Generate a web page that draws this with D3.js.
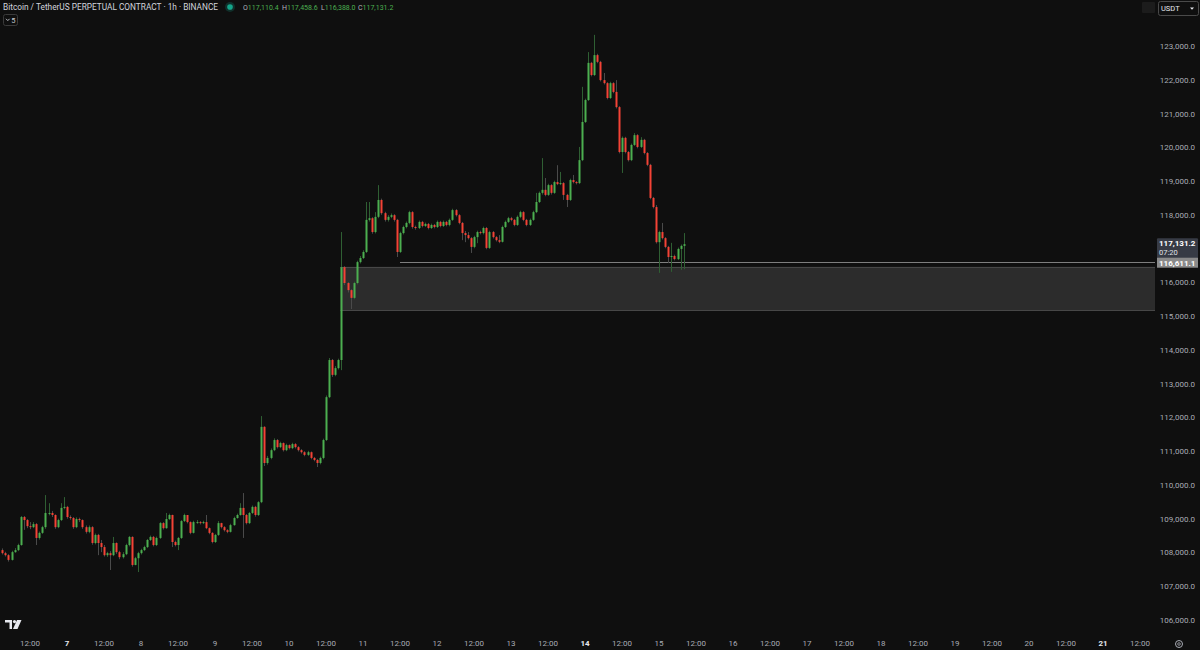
<!DOCTYPE html>
<html><head><meta charset="utf-8">
<script src="https://cdn.jsdelivr.net/npm/d3@7"></script>
<style>html,body{margin:0;padding:0;background:#0f0f0f;overflow:hidden}svg{display:block;font-family:Roboto,"Noto Sans",sans-serif}</style>
</head><body><svg id="c" width="1200" height="650"></svg>
<script>
// ---------------- data ----------------
const firstCandle = new Date(2025, 6, 6, 3);   // 6 Jul 2025 03:00, hourly candles
const firstOpen = 108070;
const closes = [
107980,107920,107780,108010,108070,108220,109050,108960,108780,108750,
108840,108430,108580,108750,109170,109170,109110,108750,108960,109320,
109350,109050,109020,108750,108990,108960,108750,108610,108750,108280,
108520,108280,108160,107920,107980,107920,108280,108010,107860,107950,
108220,108460,107630,107830,107980,108070,108160,108370,108460,108220,
108430,108870,108720,108990,109110,108310,108220,108430,108930,109110,
108900,108580,108900,108900,108870,108900,108720,108580,108310,108520,
108870,108750,108660,108610,108810,109020,109110,109320,109110,108870,
109170,109350,109110,109490,111720,110650,110800,111030,111330,111120,
111240,111030,111180,111090,111210,111120,111030,110970,110890,110970,
110800,110740,110650,110800,111330,112600,113700,113260,113460,113700,
116450,115980,115770,115540,115980,116600,116720,116900,117850,117900,
117490,117940,118440,118050,117850,117940,117990,117850,116900,117460,
117640,117760,118080,117640,117610,117790,117670,117730,117610,117700,
117640,117790,117670,117790,117700,117850,118140,117990,117760,117460,
117400,117310,117050,117340,117490,117460,117610,117020,117490,117340,
117250,117200,117640,117790,117900,117850,117700,117940,118080,117850,
117700,117850,118080,118380,118650,118740,118590,118880,118650,118970,
118910,118940,118590,118440,119030,118970,118940,119620,120750,121400,
122500,122140,122730,122530,121990,121900,121460,121900,121640,121190,
119860,120280,119860,119620,120070,120360,120010,120220,119830,119480,
118500,118230,117190,117490,117310,117050,116750,116780,116690,116990,
117080,117131.2];
const highs = [
108120,108020,107950,108050,108130,108260,109080,109080,108990,108900,
108900,108870,108620,108790,109700,109460,109230,109130,109000,109460,
109640,109380,109100,109050,109040,109030,108980,108800,108800,108780,
108560,108550,108370,108220,108020,108040,108460,108300,108050,108010,
108260,108490,108480,107870,108020,108110,108200,108400,108500,108490,
108470,108900,108900,109170,109150,109120,108350,108460,108960,109150,
109110,108920,108940,108960,108930,108940,109110,108740,108600,108550,
108930,108880,108780,108690,108850,109060,109150,109460,109760,109140,
109200,109390,109380,109520,112040,111740,110860,111080,111380,111360,
111280,111260,111220,111200,111250,111240,111150,111060,111000,111010,
110990,110830,110770,110840,111370,112650,113760,113730,113520,113740,
117490,116480,116010,115800,116020,116640,116780,116950,118380,118380,
117930,118080,118880,118480,118090,117990,118040,118020,117880,117500,
117680,117800,118120,118110,117680,117830,117820,117770,117760,117740,
117730,117830,117820,117830,117820,117890,118180,118170,118020,117790,
117520,117490,117340,117380,117530,117530,117650,117640,117530,117520,
117370,117400,117680,117830,117940,117940,117880,117980,118120,118110,
117880,117890,118120,118650,118690,119680,119090,118920,118910,119010,
119470,119270,118970,118620,119070,119180,119000,120010,121790,121440,
122820,122530,123330,122770,122560,122200,121930,121940,121930,121990,
121220,120320,120310,119890,120110,120420,120390,120300,120250,119860,
119510,118530,118290,117530,117760,117340,117080,117170,116820,117030,
117120,117458.6];
const lows = [
107940,107880,107730,107760,107990,108040,108200,108670,108720,108690,
108720,108220,108380,108550,108700,109100,109050,108700,108720,108930,
109280,109000,108970,108700,108720,108900,108700,108560,108570,108230,
108240,107920,108010,107880,107870,107480,107890,107960,107800,107820,
107920,108180,107580,107620,107420,107940,108040,108130,108340,108180,
108190,108400,108680,108700,108960,108160,108180,108070,108400,108900,
108860,108540,108560,108850,108830,108840,108690,108540,108270,108280,
108490,108710,108620,108570,108590,108790,109000,109090,108430,108830,
108840,109140,109060,109080,109460,110560,110600,110760,111000,111080,
111090,110990,111000,111050,111060,111080,110990,110930,110850,110860,
110760,110700,110530,110610,110760,111300,112570,113200,113220,113420,
113400,115920,115700,115210,115500,115940,116560,116690,116870,117800,
117440,117450,117900,118000,117800,117800,117900,117800,116750,116870,
117420,117600,117720,117590,117560,117580,117630,117640,117570,117580,
117600,117610,117630,117640,117660,117660,117820,117950,117720,117250,
117190,117270,116870,117010,117160,117420,117420,116980,116990,117300,
117210,117160,117180,117610,117760,117810,117660,117670,117900,117810,
117660,117670,117820,118050,118350,118600,118550,118560,118600,118620,
118880,118880,118440,118230,118410,118930,118900,118910,119590,120720,
121370,122100,122110,122490,121950,121860,121420,121430,121600,121150,
119820,119240,119820,119580,119590,120040,119970,119980,119790,119440,
118460,118190,117150,116280,117270,117010,116570,116310,116650,116660,
116370,116388];
const priceTicks = [106000,107000,108000,109000,110000,111000,112000,113000,114000,115000,116000,118000,119000,120000,121000,122000,123000];
const zoneTop = 116460, zoneBottom = 115180;
const zoneStart = new Date(2025, 6, 10, 17);
const levelPrice = 116611.1;
const levelStart = new Date(2025, 6, 11, 12);
const lastPrice = 117131.2;
const countdown = "07:20";
const title = "Bitcoin / TetherUS PERPETUAL CONTRACT · 1h · BINANCE";
const ohlcKeys = ["O","H","L","C"];
const ohlcVals = ["117,110.4","117,458.6","116,388.0","117,131.2"];
const indicatorCount = "5";

// ---------------- scales ----------------
const W = 1200, H = 650, plotRight = 1155;
const x = d3.scaleTime().domain([new Date(2025,6,7), new Date(2025,6,14)]).range([67, 585]);
const y = d3.scaleLinear().domain([106000, 123000]).range([620, 46]);
const fmt = d3.format(",.1f");

const svg = d3.select("#c");
svg.append("rect").attr("width", W).attr("height", H).attr("fill", "#0f0f0f");

const candles = closes.map((c, i) => ({
  t: d3.timeHour.offset(firstCandle, i),
  o: i === 0 ? firstOpen : closes[i - 1],
  h: highs[i], l: lows[i], c
}));

svg.append("clipPath").attr("id", "plot").append("rect").attr("x", 0).attr("y", 0).attr("width", plotRight).attr("height", 630);
const g = svg.append("g").attr("clip-path", "url(#plot)");

// zone
g.append("rect")
  .attr("x", x(zoneStart) - 1).attr("y", y(zoneTop))
  .attr("width", plotRight - x(zoneStart) + 1).attr("height", y(zoneBottom) - y(zoneTop))
  .attr("fill", "#2c2c2c");
[zoneTop, zoneBottom].forEach(p => g.append("line")
  .attr("x1", x(zoneStart) - 1).attr("x2", plotRight).attr("y1", Math.round(y(p)) + 0.5).attr("y2", Math.round(y(p)) + 0.5)
  .attr("stroke", "#474747").attr("stroke-width", 1));

// level line
g.append("line").attr("x1", x(levelStart)).attr("x2", plotRight)
  .attr("y1", Math.round(y(levelPrice)) + 0.5).attr("y2", Math.round(y(levelPrice)) + 0.5)
  .attr("stroke", "#7e7e7e").attr("stroke-width", 1);

// candles
const up = "#4caf50", dn = "#f44336";
const cg = g.append("g");
cg.selectAll("line.w").data(candles).join("line").attr("class", "w")
  .attr("x1", d => Math.round(x(d.t)) + 0.5).attr("x2", d => Math.round(x(d.t)) + 0.5)
  .attr("y1", d => y(d.h)).attr("y2", d => y(d.l))
  .attr("stroke", d => d.c >= d.o ? "#2f5f33" : "#4a4a4a").attr("stroke-width", 1);
cg.selectAll("rect.b").data(candles).join("rect").attr("class", "b")
  .attr("x", d => Math.round(x(d.t)) - 0.5).attr("width", 2)
  .attr("y", d => y(Math.max(d.o, d.c)))
  .attr("height", d => Math.max(1, Math.abs(y(d.o) - y(d.c))))
  .attr("fill", d => d.c >= d.o ? up : dn);

// right price axis
const ax = svg.append("g");
ax.selectAll("text.p").data(priceTicks).join("text").attr("class", "p")
  .attr("x", 1195).attr("y", d => y(d) + 3).attr("text-anchor", "end")
  .attr("font-size", 8).attr("fill", "#a9acb5").text(d => fmt(d));

// last price box
const lpY = y(lastPrice);
ax.append("rect").attr("x", 1157).attr("y", lpY - 6).attr("width", 41).attr("height", 20).attr("rx", 1).attr("fill", "#373b45");
ax.append("text").attr("x", 1159).attr("y", lpY + 2).attr("font-size", 8).attr("font-weight", 700).attr("fill", "#ffffff").text(fmt(lastPrice));
ax.append("text").attr("x", 1159).attr("y", lpY + 11).attr("font-size", 7.5).attr("fill", "#e0e3eb").text(countdown);
// level box
const lvY = y(levelPrice);
ax.append("rect").attr("x", 1157).attr("y", lvY - 4).attr("width", 41).attr("height", 10).attr("fill", "#8a8a8a");
ax.append("text").attr("x", 1159).attr("y", lvY + 4).attr("font-size", 8).attr("font-weight", 700).attr("fill", "#ffffff").text(fmt(levelPrice));

// bottom time axis
const ticks = d3.timeHour.every(12).range(new Date(2025,6,6,12), new Date(2025,6,21,13));
svg.append("g").selectAll("text").data(ticks).join("text")
  .attr("x", d => x(d)).attr("y", 646).attr("text-anchor", "middle")
  .attr("font-size", 8)
  .attr("font-weight", d => (d.getHours() === 0 && d.getDay() === 1) ? 700 : 400)
  .attr("fill", d => (d.getHours() === 0 && d.getDay() === 1) ? "#e6e8ee" : "#a9acb5")
  .text(d => d.getHours() === 12 ? "12:00" : String(d.getDate()));

// settings icon bottom right
svg.append("circle").attr("cx", 1179).attr("cy", 644).attr("r", 3.5).attr("fill", "none").attr("stroke", "#a9acb5").attr("stroke-width", 1);
svg.append("circle").attr("cx", 1179).attr("cy", 644).attr("r", 1.3).attr("fill", "none").attr("stroke", "#a9acb5").attr("stroke-width", 0.8);

// header
svg.append("text").attr("x", 3).attr("y", 10).attr("font-size", 8.4).attr("fill", "#d1d4dc")
  .attr("textLength", 215).attr("lengthAdjust", "spacingAndGlyphs").text(title);
svg.append("circle").attr("cx", 230).attr("cy", 7).attr("r", 5).attr("fill", "#10302b");
svg.append("circle").attr("cx", 230).attr("cy", 7).attr("r", 2.8).attr("fill", "#14a58a");
const ohlcX = [243, 282, 321, 358];
ohlcKeys.forEach((k, i) => {
  const t = svg.append("text").attr("x", ohlcX[i]).attr("y", 10).attr("font-size", 7);
  t.append("tspan").attr("fill", "#b2b5be").text(k);
  t.append("tspan").attr("fill", "#4caf50").text(ohlcVals[i]);
});
// indicator toggle
svg.append("rect").attr("x", 3.5).attr("y", 14.5).attr("width", 14).attr("height", 11).attr("rx", 2).attr("fill", "none").attr("stroke", "#3a3a3a");
svg.append("path").attr("d", "M6,18.8 L7.8,20.6 L9.6,18.8").attr("fill", "none").attr("stroke", "#c8cbd2").attr("stroke-width", 0.9);
svg.append("text").attr("x", 11.2).attr("y", 23).attr("font-size", 7.5).attr("fill", "#c8cbd2").text(indicatorCount);

// top right controls
svg.append("rect").attr("x", 1142).attr("y", 2).attr("width", 13).attr("height", 11).attr("rx", 1).attr("fill", "#1c1c1c");
svg.append("rect").attr("x", 1158.5).attr("y", 1.5).attr("width", 40).attr("height", 14).attr("rx", 2).attr("fill", "#0f0f0f").attr("stroke", "#4a4a4a");
svg.append("text").attr("x", 1161).attr("y", 11).attr("font-size", 7.5).attr("fill", "#e6e8ee").text("USDT");
svg.append("path").attr("d", "M1190,7.5 L1194,7.5 L1192,9.8 Z").attr("fill", "#e6e8ee");

// TradingView logo (bottom-left)
const logo = svg.append("g").attr("fill", "#e6e8ee");
logo.append("path").attr("d", "M5,620 H12 V629 H9.5 V622.5 H5 Z");
logo.append("circle").attr("cx", 14.5).attr("cy", 621.6).attr("r", 1.6);
logo.append("path").attr("d", "M17,620 H21.5 L17.5,629 H13 Z");
</script>
</body></html>
